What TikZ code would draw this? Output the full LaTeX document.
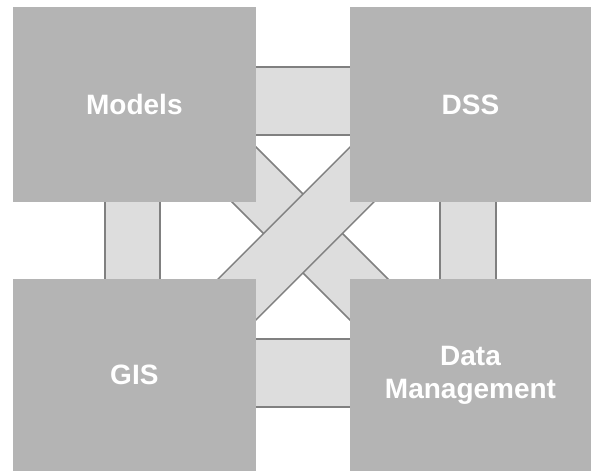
\documentclass[tikz,border=0pt]{standalone}
\usepackage{fontspec}
\setmainfont{Liberation Sans}
\usetikzlibrary{backgrounds}
\definecolor{boxgray}{HTML}{B4B4B4}
\definecolor{barfill}{HTML}{DDDDDD}
\definecolor{edgegray}{HTML}{808080}
\tikzset{
  bigbox/.style={rectangle, fill=boxgray, inner sep=0pt, text=white,
    font=\fontsize{28}{33}\selectfont\bfseries, align=center},
  barshape/.style={fill=barfill},
  baredge/.style={draw=edgegray, line width=1.5pt},
}
\begin{document}
\begin{tikzpicture}[x=1pt,y=-1pt]
\useasboundingbox (0,0) rectangle (591,471);
\node[bigbox, minimum width=243.3pt, minimum height=195pt] (models) at (134.35,104.5) {Models};
\node[bigbox, minimum width=241pt, minimum height=195pt] (dss) at (470.5,104.5) {DSS};
\node[bigbox, minimum width=243.3pt, minimum height=192pt] (gis) at (134.35,375) {GIS};
\node[bigbox, minimum width=241pt, minimum height=192pt] (dm) at (470.5,375) {Data\\Management};
\begin{pgfonlayer}{background}
  % horizontal bars
  \fill[barshape] (models.east |- 0,67) rectangle (dss.west |- 0,135);
  \draw[baredge] (models.east |- 0,67) -- (dss.west |- 0,67);
  \draw[baredge] (models.east |- 0,135) -- (dss.west |- 0,135);
  \fill[barshape] (gis.east |- 0,339) rectangle (dm.west |- 0,407);
  \draw[baredge] (gis.east |- 0,339) -- (dm.west |- 0,339);
  \draw[baredge] (gis.east |- 0,407) -- (dm.west |- 0,407);
  % vertical bars
  \fill[barshape] (105,0 |- models.south) rectangle (160,0 |- gis.north);
  \draw[baredge] (105,0 |- models.south) -- (105,0 |- gis.north);
  \draw[baredge] (160,0 |- models.south) -- (160,0 |- gis.north);
  \fill[barshape] (440,0 |- dss.south) rectangle (496,0 |- dm.north);
  \draw[baredge] (440,0 |- dss.south) -- (440,0 |- dm.north);
  \draw[baredge] (496,0 |- dss.south) -- (496,0 |- dm.north);
  % diagonal band Models -- Data Management (underneath)
  \fill[barshape] (216.65,107.65) -- (428.85,319.85) -- (389.35,359.35) -- (177.15,147.15) -- cycle;
  \draw[baredge] (216.65,107.65) -- (428.85,319.85);
  \draw[baredge] (177.15,147.15) -- (389.35,359.35);
  % diagonal band GIS -- DSS (on top)
  \fill[barshape] (177.2,319.9) -- (389.4,107.7) -- (428.8,147.1) -- (216.6,359.3) -- cycle;
  \draw[baredge] (177.2,319.9) -- (389.4,107.7);
  \draw[baredge] (216.6,359.3) -- (428.8,147.1);
\end{pgfonlayer}
\end{tikzpicture}
\end{document}
